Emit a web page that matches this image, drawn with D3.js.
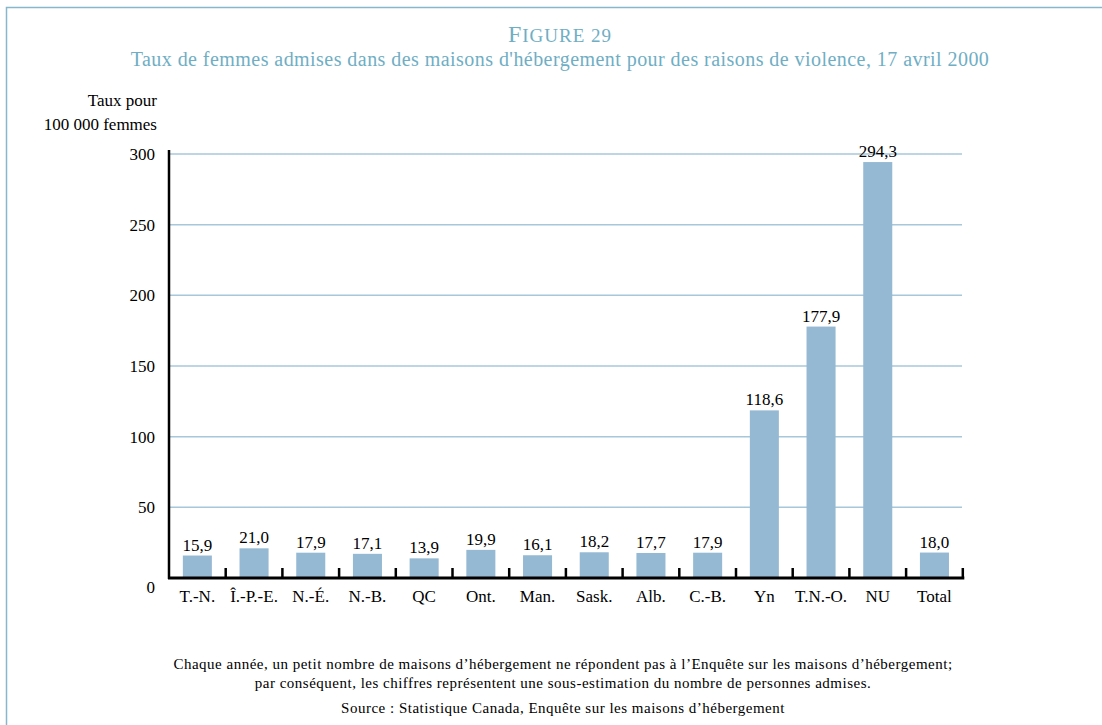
<!DOCTYPE html>
<html>
<head>
<meta charset="utf-8">
<script src="https://cdn.jsdelivr.net/npm/d3@7"></script>
<style>
  html, body { margin: 0; padding: 0; background: #fff; }
  svg { display: block; }
</style>
</head>
<body>
<svg id="chart" width="1102" height="725"></svg>
<script>
// Provinces / territories and admission rates (per 100 000 women)
const categories = ["T.-N.", "Î.-P.-E.", "N.-É.", "N.-B.", "QC", "Ont.", "Man.", "Sask.", "Alb.", "C.-B.", "Yn", "T.N.-O.", "NU", "Total"];
const rates = [15.9, 21.0, 17.9, 17.1, 13.9, 19.9, 16.1, 18.2, 17.7, 17.9, 118.6, 177.9, 294.3, 18.0];
const yTicks = [0, 50, 100, 150, 200, 250, 300];

const serif = "'Liberation Serif', 'Times New Roman', 'DejaVu Serif', serif";
const svg = d3.select("#chart");
const accent = "#6faec4";
const barColor = "#95b9d3";
const gridColor = "#a8c7db";

// Frame around the figure
svg.append("path")
  .attr("d", "M6.5,725 V7.5 H1102")
  .attr("fill", "none")
  .attr("stroke", "#86b7cb")
  .attr("stroke-width", 1.5);

// Titles
const title = svg.append("text")
  .attr("x", 560).attr("y", 42)
  .attr("text-anchor", "middle")
  .attr("fill", accent)
  .attr("letter-spacing", 1);
title.append("tspan").attr("font-size", 24).text("F");
title.append("tspan").attr("font-size", 19).text("IGURE 29");

svg.append("text")
  .attr("x", 560).attr("y", 66)
  .attr("text-anchor", "middle")
  .attr("fill", accent)
  .attr("font-size", 20)
  .attr("letter-spacing", 0.45)
  .text("Taux de femmes admises dans des maisons d'hébergement pour des raisons de violence, 17 avril 2000");

// Axis title
svg.append("text").attr("x", 157).attr("y", 106).attr("text-anchor", "end")
  .attr("font-size", 17).text("Taux pour");
svg.append("text").attr("x", 157).attr("y", 130).attr("text-anchor", "end")
  .attr("font-size", 17).text("100 000 femmes");

// Scales
const x0 = 169, x1 = 962.8;
const x = d3.scaleBand().domain(categories).range([x0, x1]).paddingInner(0.488).paddingOuter(0.244);
const y = d3.scaleLinear().domain([0, 300]).range([578, 154]);
const band = (x1 - x0) / categories.length;

// Gridlines
svg.append("g")
  .selectAll("line")
  .data(yTicks.filter(d => d > 0))
  .join("line")
  .attr("x1", x0 + 1).attr("x2", 962)
  .attr("y1", d => y(d)).attr("y2", d => y(d))
  .attr("stroke", gridColor)
  .attr("stroke-width", 1.5);

// Bars
svg.append("g")
  .selectAll("rect")
  .data(rates)
  .join("rect")
  .attr("x", (d, i) => x(categories[i]))
  .attr("width", x.bandwidth())
  .attr("y", d => y(d))
  .attr("height", d => y(0) - y(d))
  .attr("fill", barColor);

// Value labels
svg.append("g")
  .selectAll("text")
  .data(rates)
  .join("text")
  .attr("x", (d, i) => x(categories[i]) + x.bandwidth() / 2)
  .attr("y", d => y(d) - 5)
  .attr("text-anchor", "middle")
  .attr("font-size", 17)
  .text(d => d3.format(".1f")(d).replace(".", ","));

// Y axis
const yAxis = d3.axisLeft(y).tickValues(yTicks).tickSize(0).tickPadding(14)
  .tickFormat(d => d);
const gy = svg.append("g").attr("transform", `translate(${x0},0)`).call(yAxis);
gy.select(".domain").remove();
gy.selectAll("text").attr("font-size", 17).attr("fill", "#000");
gy.selectAll("text").filter(d => d === 0).attr("dy", "0.85em");
svg.append("line")
  .attr("x1", x0).attr("x2", x0)
  .attr("y1", y(300) - 4).attr("y2", y(0) + 1)
  .attr("stroke", "#000").attr("stroke-width", 2.5);

// X axis baseline with separator ticks pointing up
svg.append("line")
  .attr("x1", x0 - 1).attr("x2", x1 + 1.5)
  .attr("y1", y(0)).attr("y2", y(0))
  .attr("stroke", "#000").attr("stroke-width", 3);
svg.append("g")
  .selectAll("line")
  .data(d3.range(1, categories.length + 1))
  .join("line")
  .attr("x1", i => x0 + i * band).attr("x2", i => x0 + i * band)
  .attr("y1", y(0) - 10).attr("y2", y(0))
  .attr("stroke", "#000").attr("stroke-width", 2.5);

const xAxis = d3.axisBottom(x).tickSize(0).tickPadding(12);
const gx = svg.append("g").attr("transform", `translate(0,${y(0)})`).call(xAxis);
gx.select(".domain").remove();
gx.selectAll("text").attr("font-size", 17).attr("fill", "#000");

// Footnotes
const notes = [
  ["Chaque année, un petit nombre de maisons d’hébergement ne répondent pas à l’Enquête sur les maisons d’hébergement;", 669],
  ["par conséquent, les chiffres représentent une sous-estimation du nombre de personnes admises.", 688],
  ["Source : Statistique Canada, Enquête sur les maisons d’hébergement", 713]
];
svg.append("g")
  .selectAll("text")
  .data(notes)
  .join("text")
  .attr("x", 563).attr("y", d => d[1])
  .attr("text-anchor", "middle")
  .attr("font-size", 15)
  .attr("letter-spacing", 0.5)
  .text(d => d[0]);

// One serif face for every label
svg.selectAll("text").style("font-family", serif);
svg.selectAll("g").attr("font-family", null);
</script>
</body>
</html>
